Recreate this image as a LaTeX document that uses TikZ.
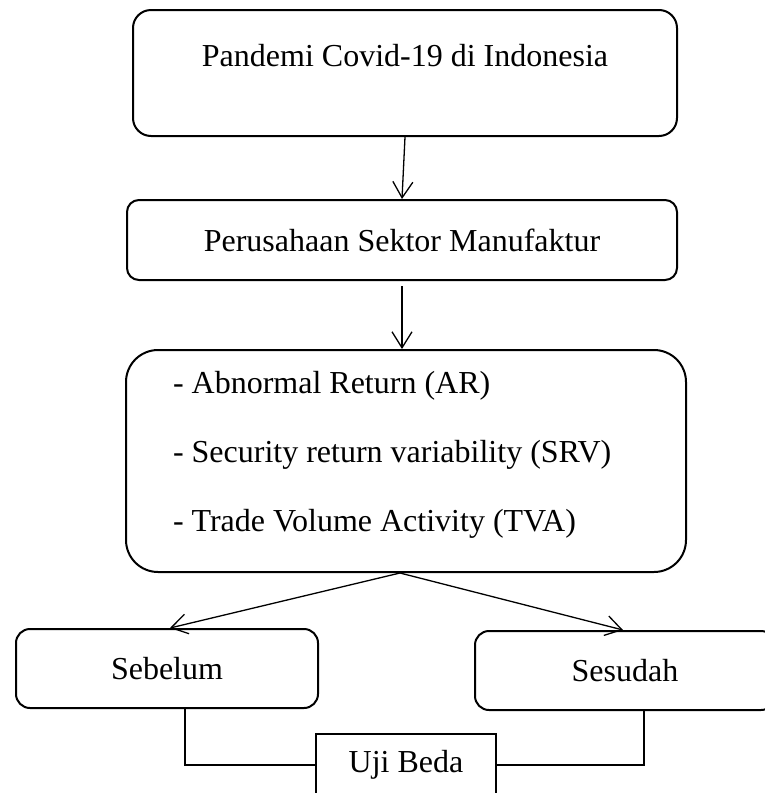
\documentclass[tikz,border=0pt]{standalone}
\usepackage{fontspec}
\setmainfont{Liberation Serif}
\usetikzlibrary{positioning,calc,arrows.meta}

\begin{document}
\begin{tikzpicture}
[   x=1pt,y=-1pt,
    rbox/.style={draw=black,line width=2pt,rounded corners=#1,inner sep=0pt,font=\fontsize{32}{38}\selectfont},
    rbox/.default=14pt,
]
\tikzset{open arrow/.style={draw,line width=1.3pt,-{Straight Barb[length=16pt,width=20pt]}}}
\clip (0,0) rectangle (765,793);
\node[rbox=18pt,minimum width=544pt,text height=56pt,text depth=70pt] (pandemi) at (405,73) {Pandemi Covid-19 di Indonesia};
\node[rbox=12pt,minimum width=550pt,minimum height=80pt] (sektor) at (402,240) {Perusahaan Sektor Manufaktur};
\node[rbox=32pt,text width=466pt,inner xsep=47pt,text height=43pt,text depth=179pt,align=flush left] (variabel) at (406,461)
	{- Abnormal Return (AR)\\[31pt]
	 - Security return variability (SRV)\\[31pt]
	 - Trade Volume Activity (TVA)};
\node[rbox,minimum width=302pt,minimum height=79pt] (sebelum) at (167,668.5) {Sebelum};
\node[rbox,minimum width=300pt,minimum height=79pt] (sesudah) at (625,670.5) {Sesudah};
\node[rbox=0pt,minimum width=180pt,minimum height=62pt] (uji) at (406,765) {Uji Beda};

\path[open arrow] (pandemi.south) -- (sektor.north);
\path[open arrow] ([yshift=-5pt]sektor.south) -- (sektor.south |- variabel.north);
\path[open arrow] ([xshift=-6pt]variabel.south) -- ([xshift=3pt]sebelum.north);
\path[open arrow] ([xshift=-6pt]variabel.south) -- ([xshift=-2pt]sesudah.north);

%\draw (sebelum) -- (uji) -- (sesudah);
\draw[line width=1.2pt] ([xshift=18pt]sebelum.south) |- (uji.west);
\draw[line width=1.2pt] ([xshift=19pt]sesudah.south) |- (uji.east);
\end{tikzpicture}
\end{document}
